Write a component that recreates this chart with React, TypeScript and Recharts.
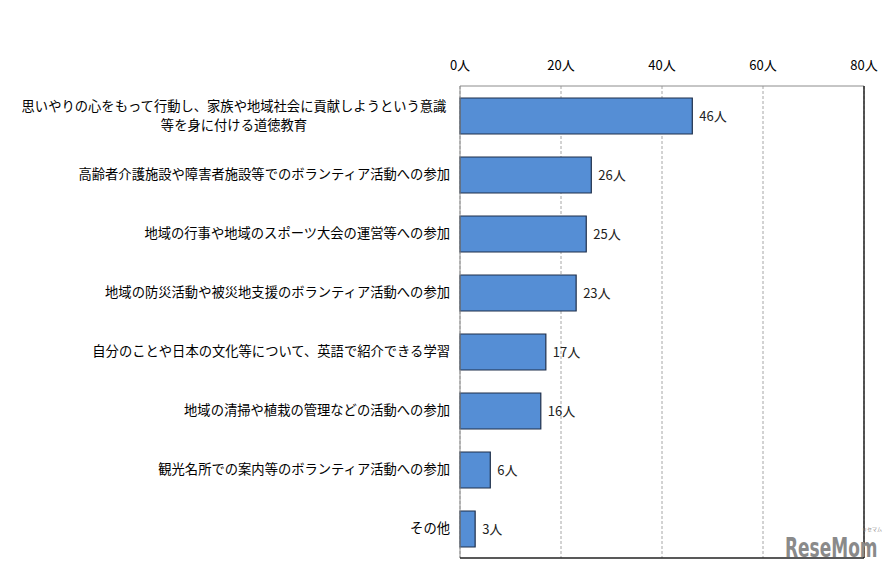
import { BarChart, Bar, XAxis, YAxis, CartesianGrid, LabelList } from "recharts"

const categories = [
  "思いやりの心をもって行動し、家族や地域社会に貢献しようという意識\n等を身に付ける道徳教育",
  "高齢者介護施設や障害者施設等でのボランティア活動への参加",
  "地域の行事や地域のスポーツ大会の運営等への参加",
  "地域の防災活動や被災地支援のボランティア活動への参加",
  "自分のことや日本の文化等について、英語で紹介できる学習",
  "地域の清掃や植栽の管理などの活動への参加",
  "観光名所での案内等のボランティア活動への参加",
  "その他",
]
const counts = [46, 26, 25, 23, 17, 16, 6, 3]
const xTicks = [0, 20, 40, 60, 80]

const data = categories.map((name, i) => ({ name, value: counts[i] }))

const FONT = "'Noto Sans CJK JP', sans-serif"

const CategoryTick = (props: any) => {
  const { x, y, payload } = props
  const lines: string[] = String(payload.value).split("\n")
  if (lines.length === 1) {
    return (
      <text x={x} y={y} dy={4.5} textAnchor="end" fontSize={13.3} fill="#000" fontFamily={FONT}>
        {lines[0]}
      </text>
    )
  }
  // two-line label: lines centred on each other, block right-aligned
  const half = 432 / 2
  return (
    <text x={x - half} y={y} textAnchor="middle" fontSize={13.3} fill="#000" fontFamily={FONT}>
      {lines.map((l, i) => (
        <tspan key={i} x={x - half} dy={i === 0 ? -5 : 19}>
          {l}
        </tspan>
      ))}
    </text>
  )
}

export default function App() {
  return (
    <div style={{ position: "absolute", left: 0, top: 0, width: 896, height: 569, background: "#fff" }}>
      <BarChart
        width={896}
        height={569}
        data={data}
        layout="vertical"
        margin={{ top: 56, right: 32, bottom: 11, left: 0 }}
        barSize={36}
      >
        <CartesianGrid horizontal={false} stroke="#a6a6a6" strokeDasharray="3 2" />
        <XAxis
          type="number"
          orientation="top"
          domain={[0, 80]}
          ticks={xTicks}
          tickFormatter={(v: number) => `${v}人`}
          tickLine={false}
          axisLine={{ stroke: "#8c8c8c" }}
          tick={{ fontSize: 13, fill: "#000", fontFamily: FONT }}
          tickMargin={10}
        />
        <YAxis
          type="category"
          dataKey="name"
          width={460}
          tickLine={false}
          tickSize={0}
          tickMargin={10}
          axisLine={{ stroke: "#8c8c8c" }}
          tick={<CategoryTick />}
          interval={0}
        />
        <Bar dataKey="value" fill="#558ed5" stroke="#1f2f4a" strokeWidth={1.2} isAnimationActive={false}>
          <LabelList
            dataKey="value"
            position="right"
            offset={7}
            formatter={(v: any) => `${v}人`}
            style={{ fontSize: 13, fill: "#222", fontFamily: FONT }}
          />
        </Bar>
      </BarChart>
      <svg width={896} height={569} style={{ position: "absolute", left: 0, top: 0, pointerEvents: "none" }}>
        <line x1={864} y1={86} x2={864} y2={558} stroke="#222" strokeWidth={1.5} />
        <line x1={460} y1={558} x2={864} y2={558} stroke="#222" strokeWidth={1.5} />
        <text
          transform="translate(785 557) scale(1 1.55)"
          fontSize={17}
          fontWeight="bold"
          fill="#8a8a8a"
          fontFamily="'DejaVu Sans', sans-serif"
        >
          ReseMom
        </text>
        <text x={862} y={531} fontSize={5} fill="#8a8a8a" fontFamily={FONT}>
          リセマム
        </text>
      </svg>
    </div>
  )
}
